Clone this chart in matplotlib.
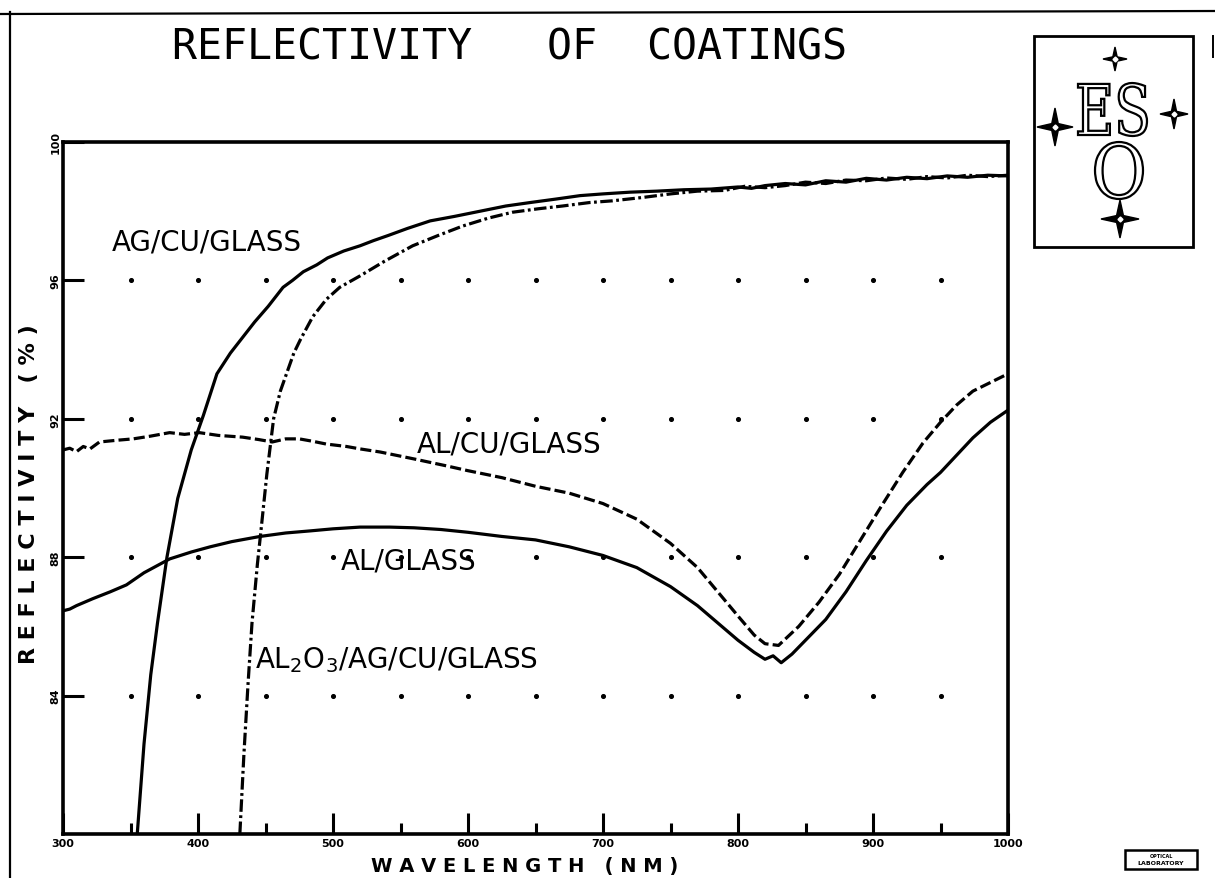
import matplotlib.pyplot as plt
import numpy as np
from matplotlib.patches import Rectangle, PathPatch
from matplotlib.path import Path
from matplotlib.textpath import TextPath
from matplotlib.font_manager import FontProperties
from matplotlib.transforms import Affine2D

plt.rcParams['lines.scale_dashes'] = False

# measured reflectivity (%) vs wavelength (nm)
ag_wl = [355, 360, 365, 370, 377, 385, 395, 404, 414, 424, 433, 442, 452, 463, 470,
         478, 488, 496, 508, 520, 530, 541, 555, 572, 590, 609, 628, 646, 665, 683,
         700, 720, 740, 760, 780, 800, 810, 820, 835, 850, 865, 880, 895, 910, 925,
         940, 955, 970, 985, 1000]
ag = [80.0, 82.6, 84.6, 86.1, 88.0, 89.7, 91.1, 92.1, 93.3, 93.9, 94.35, 94.8, 95.25,
      95.8, 96.0, 96.25, 96.45, 96.65, 96.85, 97.0, 97.15, 97.3, 97.5, 97.72, 97.85,
      98.0, 98.15, 98.25, 98.35, 98.45, 98.5, 98.55, 98.58, 98.62, 98.64, 98.7, 98.66,
      98.74, 98.8, 98.76, 98.88, 98.84, 98.95, 98.9, 98.98, 98.94, 99.02, 98.98, 99.04,
      99.02]

al2o3_wl = [431, 434, 437, 440, 444, 447, 451, 456, 461, 466, 471, 476, 485, 495, 505,
            520, 538, 559, 578, 596, 615, 633, 652, 670, 690, 707, 730, 750, 770, 790,
            805, 820, 835, 850, 865, 880, 895, 910, 925, 940, 955, 970, 985, 1000]
al2o3 = [80.0, 82.3, 84.3, 86.1, 87.8, 88.9, 90.4, 92.0, 92.8, 93.35, 93.9, 94.3,
         94.95, 95.45, 95.8, 96.13, 96.55, 97.0, 97.3, 97.57, 97.8, 97.97, 98.07, 98.15,
         98.25, 98.3, 98.4, 98.5, 98.58, 98.6, 98.72, 98.68, 98.74, 98.84, 98.8, 98.9,
         98.88, 98.96, 98.92, 99.0, 98.96, 99.04, 99.0, 99.04]

alcu_wl = [300, 305, 310, 315, 320, 327, 340, 352, 365, 379, 390, 401, 415, 433, 445,
           455, 465, 475, 485, 495, 510, 520, 535, 550, 560, 584, 600, 625, 650, 675,
           700, 725, 750, 770, 785, 800, 812, 820, 830, 845, 860, 875, 890, 905, 922,
           937, 950, 962, 974, 987, 1000]
alcu = [91.1, 91.15, 91.05, 91.2, 91.13, 91.33, 91.38, 91.42, 91.5, 91.6, 91.55, 91.6,
        91.52, 91.47, 91.4, 91.33, 91.42, 91.42, 91.35, 91.27, 91.2, 91.13, 91.04,
        90.92, 90.84, 90.64, 90.5, 90.3, 90.05, 89.85, 89.55, 89.1, 88.4, 87.7, 87.0,
        86.3, 85.75, 85.5, 85.45, 86.0, 86.7, 87.5, 88.45, 89.4, 90.45, 91.3, 91.9,
        92.4, 92.8, 93.05, 93.3]

al_wl = [300, 305, 310, 322, 335, 347, 360, 379, 395, 409, 425, 446, 465, 483, 500,
         520, 542, 560, 580, 600, 625, 650, 675, 700, 725, 750, 770, 785, 800, 812,
         820, 826, 832, 840, 850, 865, 880, 895, 910, 925, 940, 950, 962, 974, 987,
         1000]
al = [86.45, 86.5, 86.6, 86.8, 87.0, 87.2, 87.55, 87.95, 88.15, 88.3, 88.45, 88.6,
      88.7, 88.76, 88.82, 88.87, 88.87, 88.85, 88.8, 88.72, 88.6, 88.5, 88.3, 88.05,
      87.7, 87.15, 86.6, 86.1, 85.6, 85.25, 85.05, 85.15, 84.95, 85.2, 85.6, 86.2,
      87.0, 87.9, 88.75, 89.5, 90.1, 90.45, 90.95, 91.45, 91.9, 92.25]

x_major = [300, 400, 500, 600, 700, 800, 900, 1000]
x_minor = [350, 450, 550, 650, 750, 850, 950]
y_major = [84, 88, 92, 96, 100]
grid_x = [350, 400, 450, 500, 550, 600, 650, 700, 750, 800, 850, 900, 950]
grid_y = [84, 88, 92, 96]

W, H = 1215, 879
fig = plt.figure(figsize=(W / 100, H / 100), dpi=100)
fig.patch.set_facecolor('white')

# page overlay in pixel coords for frame, logo and stamp
ov = fig.add_axes([0, 0, 1, 1])
ov.set_xlim(0, W)
ov.set_ylim(H, 0)
ov.axis('off')

ax = fig.add_axes([63 / W, 1 - 835 / H, (1008 - 63) / W, (835 - 143) / H])
ax.set_xlim(300, 1000)
ax.set_ylim(80, 100)
for s in ax.spines.values():
    s.set_linewidth(2.6)

ax.set_xticks(x_major)
ax.set_xticklabels([str(v) for v in x_major], fontsize=8, fontweight='heavy')
ax.set_xticks(x_minor, minor=True)
ax.set_yticks(y_major)
ax.set_yticklabels([str(v) for v in y_major], fontsize=8, fontweight='heavy',
                   rotation=90, va='center')
ax.tick_params(which='major', direction='in', length=15, width=2.2, pad=3)
ax.tick_params(which='minor', direction='in', length=8, width=2.2)
ax.tick_params(axis='y', pad=2)

gx, gy = np.meshgrid(grid_x, grid_y)
ax.scatter(gx.ravel(), gy.ravel(), s=7, c='black', zorder=2)

ax.plot(ag_wl, ag, color='black', lw=2.3, zorder=3)
ax.plot(al2o3_wl, al2o3, color='black', lw=2.3, dashes=(9, 2.5, 2, 2.5), zorder=3)
ax.plot(alcu_wl, alcu, color='black', lw=2.3, dashes=(8, 3), zorder=3)
ax.plot(al_wl, al, color='black', lw=2.3, zorder=3)

lab = dict(fontsize=20, family='DejaVu Sans', color='black', va='center', ha='left')
ax.text(336, 97.11, 'AG/CU/GLASS', **lab)
ax.text(562, 91.3, 'AL/CU/GLASS', **lab)
ax.text(506, 87.9, 'AL/GLASS', **lab)
ax.text(442, 85.05, 'AL$_2$O$_3$/AG/CU/GLASS', **lab)

fig.text(525 / W, 1 - 867 / H, 'W A V E L E N G T H   ( N M )', fontsize=14,
         fontweight='bold', ha='center', va='center')
fig.text(29 / W, 1 - 494 / H, 'R E F L E C T I V I T Y   ( % )', fontsize=16,
         fontweight='bold', rotation=90, ha='center', va='center')

fig.text(510 / W, 1 - 48 / H, 'REFLECTIVITY   OF  COATINGS', fontsize=30,
         family='DejaVu Sans Mono', ha='center', va='center')

# page frame
ov.plot([10, 10], [13, H], color='black', lw=1.6)
ov.plot([0, W], [15, 12], color='black', lw=1.6)
ov.plot([1213, 1213], [37, 58], color='black', lw=1.4)

# logo box
ov.add_patch(Rectangle((1034, 37), 159, 211, fill=False, lw=2.0, ec='black'))


def glyphs(text, x0, y0, x1, y1, family):
    tp = TextPath((0, 0), text, size=1, prop=FontProperties(family=family))
    ext = tp.get_extents()
    sx = (x1 - x0) / ext.width
    sy = (y1 - y0) / ext.height
    tr = Affine2D().translate(-ext.x0, -ext.y1).scale(sx, -sy).translate(x0, y0)
    ov.add_patch(PathPatch(tr.transform_path(tp), fc='white', ec='black', lw=1.6))


glyphs('ES', 1078, 84, 1147, 137, 'DejaVu Serif')
glyphs('O', 1095, 143, 1143, 200, 'DejaVu Serif')


def star(cx, cy, rx, ry):
    k = 0.18
    pts = [(0, -1), (k, -k), (1, 0), (k, k), (0, 1), (-k, k), (-1, 0), (-k, -k), (0, -1)]
    verts = [(cx + px * rx, cy + py * ry) for px, py in pts]
    ov.add_patch(PathPatch(Path(verts, closed=True), fc='black', ec='black', lw=1))
    ov.plot(cx, cy, marker='D', ms=2.5, color='white', mec='white')


star(1115, 60, 12, 12)
star(1055, 128, 18, 19)
star(1174, 115, 14, 15)
star(1120, 220, 19, 19)

# stamp
ov.add_patch(Rectangle((1125, 851), 72, 19, fill=False, lw=1.8, ec='black'))
ov.text(1161, 857, 'OPTICAL', fontsize=3.5, ha='center', va='center', fontweight='bold')
ov.text(1161, 864, 'LABORATORY', fontsize=4.5, ha='center', va='center',
        fontweight='heavy')

fig.savefig('out.png', dpi=100)
